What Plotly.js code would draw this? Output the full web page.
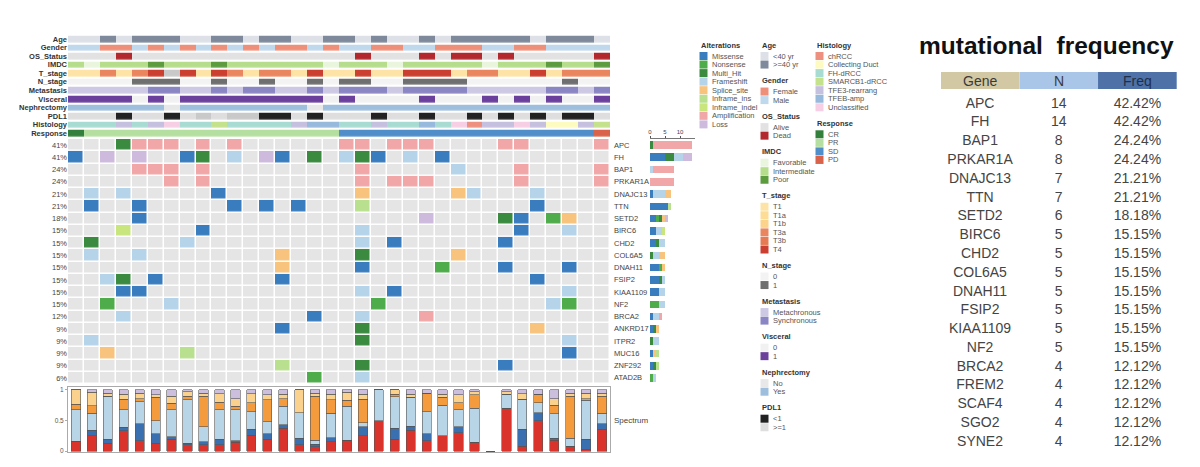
<!DOCTYPE html>
<html><head><meta charset="utf-8">
<script src="https://cdn.plot.ly/plotly-3.0.1.min.js"></script>
<style>html,body{margin:0;padding:0;background:#fff}#chart{width:1200px;height:467px}</style>
</head><body><div id="chart"></div>
<script>
const W = 1200, H = 467;

// ---------- oncoplot genes & mutations (one char per sample) ----------
const genes = ['APC','FH','BAP1','PRKAR1A','DNAJC13','TTN','SETD2','BIRC6','CHD2','COL6A5',
               'DNAH11','FSIP2','KIAA1109','NF2','BRCA2','ANKRD17','ITPR2','MUC16','ZNF292','ATAD2B'];
const altNames  = ['Missense','Nonsense','Multi_Hit','Frameshift','Splice_site','Inframe_ins','Inframe_indel','Amplification','Loss'];
const altCodes  = ['M','N','H','F','S','I','D','A','L'];
const altColors = ['#3a7dbf','#4fac4a','#3a8a3f','#b5d4ea','#f8c47d','#b9e08f','#c9e67e','#f1a7a7','#cdbadd'];
const mutRows = [
  '...HAAA.A.'+'A......AA.'+'AAA....AA.'+'...A', // APC
  'M.L.L..MH.'+'F.LM.H.FHM'+'.F.M......'+'....', // FH
  '....AAA.A.'+'........A.'+'....F...A.'+'...A', // BAP1
  '......A.A.'+'........A.'+'AAA.....A.'+'...A', // PRKAR1A
  '.F.F.....M'+'........S.'+'....SF...F'+'....', // DNAJC13
  '.M..M.....'+'M.M.M...I.'+'.........M'+'....', // TTN
  '....M.....'+'..........'+'..L....HM.'+'NS..', // SETD2
  '...D....M.'+'........F.'+'........M.'+'.F..', // BIRC6
  '.H.....F..'+'........F.'+'M......M..'+'....', // CHD2
  '.F..F.....'+'...S....H.'+'....S.....'+'....', // COL6A5
  '..........'+'...S....M.'+'...N...M..'+'.M..', // DNAH11
  '..FH.M....'+'...M......'+'.........M'+'....', // FSIP2
  '...MM.....'+'........F.'+'M.........'+'.F..', // KIAA1109
  '..N...F...'+'.........N'+'..........'+'FN..', // NF2
  '...F......'+'.....M..F.'+'..A.......'+'....', // BRCA2
  '..........'+'...M....H.'+'.........S'+'....', // ANKRD17
  '.F........'+'........H.'+'..........'+'.F..', // ITPR2
  '..S....I..'+'..........'+'..........'+'.M..', // MUC16
  '..........'+'...I....H.'+'.......M..'+'....', // ZNF292
  '..........'+'.....N..F.'+'..........'+'....'  // ATAD2B
];

// ---------- clinical annotation tracks ('9' = not available) ----------
const trackNames = ['Age','Gender','OS_Status','IMDC','T_stage','N_stage','Metastasis','Visceral','Nephrectomy','PDL1','Histology','Response'];
const naColor = '#c9c9c9';
const ageCats = ['<40 yr','>=40 yr'],            ageColors = ['#dde0e7','#7e8a9b'];
const ageVals = '0010111001'+'1011001101'+'0010111110'+'1110';
const genderCats = ['Female','Male'],            genderColors = ['#ee8f7a','#bfd8ec'];
const genderVals = '1100101010'+'1010010110'+'0110001100'+'1111';
const osCats = ['Alive','Dead'],                 osColors = ['#e2e2e2','#b3282d'];
const osVals = '0001000000'+'0000000010'+'0010110100'+'0001';
const imdcCats = ['Favorable','Intermediate','Poor'], imdcColors = ['#eaf5dd','#b5dd8b','#5c9c3f'];
const imdcVals = '1011121112'+'1111110111'+'0111110111'+'2112';
const tCats = ['T1','T1a','T1b','T3a','T3b','T4'], tColors = ['#fde4a6','#fddc96','#fcd38a','#e98660','#e57a55','#cb3f30'];
const tVals = '0030359505'+'3033050050'+'0555033005'+'0333';
const nCats = ['0','1'],                         nColors = ['#f3f3f3','#6f6f6f'];
const nVals = '0000111001'+'0010010110'+'0111100000'+'0100';
const metCats = ['Metachronous','Synchronous'],  metColors = ['#cdc8e4','#8a85c3'];
const metVals = '0000011001'+'0110010111'+'0111100000'+'1101';
const visCats = ['0','1'],                       visColors = ['#f1f1f1','#6b3f9c'];
const visVals = '1111010111'+'1111110100'+'0010001010'+'1001';
const nephCats = ['No','Yes'],                   nephColors = ['#e8e8e8','#9dbfdd'];
const nephVals = '1111110111'+'1111101111'+'1111111111'+'1111';
const pdlCats = ['<1','>=1'],                    pdlColors = ['#222222','#dedede'];
const pdlVals = '1110110191'+'9900101110'+'1101101010'+'1001';
const histCats = ['chRCC','Collecting Duct','FH-dRCC','SMARCB1-dRCC','TFE3-rearrang','TFEB-amp','Unclassified'];
const histColors = ['#ee907f','#fefbc0','#a8dcd3','#c4e18b','#c6c0df','#96b9dc','#f7cfe5'];
const histVals = '2224246223'+'2222455224'+'2252604464'+'1143';
const respCats = ['CR','PR','SD','PD'],          respColors = ['#33803c','#b5dfa0','#4f8ec8','#d9624b'];
const respVals = '0111111111'+'1111111222'+'2222222222'+'2223';

// ---------- mutation spectrum (fractions per sample, bottom -> top) ----------
const specNames  = ['C>T','C>A','T>C','T>A','C>G','T>G'];
const specColors = ['#d9332b','#3a70b0','#b8d4e7','#f39b3d','#fad28e','#ccbfdd'];
const spCT = [0.16,0.25,0.13,0.33,0.17,0.13,0.19,0.10,0.10,0.10,0.14,0.26,0.19,0.37,0.10,0.07,0.15,0.18,0.25,0.50,0.19,0.34,0.17,0.25,0.30,0.14,0,0.70,0.08,0.50,0.18,0.08,0.03,0.36];
const spCA = [0,0.09,0.06,0.06,0.28,0.15,0.04,0.03,0.05,0.09,0.03,0.10,0.09,0.06,0.11,0.04,0.07,0,0.15,0,0.18,0.07,0.11,0,0.10,0,0,0,0.28,0.13,0.03,0,0.16,0.09];
const spTC = [0.52,0.28,0.71,0.29,0.36,0.22,0.45,0.71,0.25,0.49,0.51,0.28,0.20,0.30,0.42,0.07,0.40,0.55,0.06,0.50,0.52,0.47,0.36,0.50,0.28,0.56,0,0.23,0.48,0.16,0.40,0.13,0.64,0.17];
const spTA = [0.09,0.12,0,0.17,0.05,0.38,0.10,0.06,0.50,0.12,0.05,0.15,0.36,0.13,0,0.72,0.22,0.10,0.39,0,0.04,0,0.31,0.13,0.11,0.22,0,0,0.01,0.14,0.14,0.69,0.03,0.28];
const spCG = [0.23,0.22,0.05,0.08,0.09,0.04,0.12,0.07,0.05,0.14,0.13,0.15,0.08,0.07,0.37,0.05,0.09,0.13,0.08,0,0.07,0.05,0,0.05,0.13,0.05,0,0.04,0.09,0,0.11,0.05,0.09,0.05];
const spTG = [0,0.04,0.05,0.07,0.05,0.08,0.10,0.03,0.05,0.06,0.14,0.06,0.08,0.07,0,0.05,0.07,0.04,0.07,0,0,0.07,0.05,0.07,0.08,0.03,0,0.03,0.06,0.07,0.14,0.05,0.05,0.05];

// ---------- mutational frequency table ----------
const tblHeader = ['Gene','N','Freq'];
const tblGenes = ['APC','FH','BAP1','PRKAR1A','DNAJC13','TTN','SETD2','BIRC6','CHD2','COL6A5','DNAH11','FSIP2','KIAA1109','NF2','BRCA2','FREM2','SCAF4','SGO2','SYNE2'];
const tblN     = [14,14,8,8,7,7,6,5,5,5,5,5,5,5,4,4,4,4,4];
const tblFreq  = ['42.42%','42.42%','24.24%','24.24%','21.21%','21.21%','18.18%','15.15%','15.15%','15.15%','15.15%','15.15%','15.15%','15.15%','12.12%','12.12%','12.12%','12.12%','12.12%'];

// ================= build =================
const FONT = 'Liberation Sans, Arial, sans-serif';
const nS = mutRows[0].length;
const sampleIdx = Array.from({length:nS},(_,i)=>i);
const px = x => x / W, py = y => 1 - y / H;

function discreteScale(colors){
  const n = colors.length, s = [];
  colors.forEach((c,i)=>{ s.push([i/n,c]); s.push([(i+1)/n,c]); });
  return s;
}

// mutation matrix
const mutPalette = ['#e5e5e5'].concat(altColors);
const zMut = mutRows.map(r => r.split('').map(ch => altCodes.indexOf(ch) + 1));
const counts = mutRows.map(r => r.split('').filter(c => c !== '.').length);
const pctLabels = counts.map(c => Math.round(c / nS * 100) + '%');

// annotation matrix
const tracks = [
  [ageCats,ageColors,ageVals],[genderCats,genderColors,genderVals],[osCats,osColors,osVals],
  [imdcCats,imdcColors,imdcVals],[tCats,tColors,tVals],[nCats,nColors,nVals],
  [metCats,metColors,metVals],[visCats,visColors,visVals],[nephCats,nephColors,nephVals],
  [pdlCats,pdlColors,pdlVals],[histCats,histColors,histVals],[respCats,respColors,respVals]
];
let annPalette = [], offsets = [];
tracks.forEach(t => { offsets.push(annPalette.length); annPalette = annPalette.concat(t[1]); });
const naIdx = annPalette.length; annPalette.push(naColor);
const zAnn = tracks.map((t,k) => t[2].split('').map(ch => ch === '9' ? naIdx : offsets[k] + (+ch)));

const traces = [];
traces.push({type:'heatmap', z:zMut, x:sampleIdx, y:genes.map((g,i)=>i), xaxis:'x', yaxis:'y',
  colorscale:discreteScale(mutPalette), zmin:-0.5, zmax:mutPalette.length-0.5, showscale:false,
  xgap:1.5, ygap:1.5, hoverinfo:'skip'});
traces.push({type:'heatmap', z:zAnn, x:sampleIdx, y:trackNames.map((t,i)=>i), xaxis:'x2', yaxis:'y2',
  colorscale:discreteScale(annPalette), zmin:-0.5, zmax:annPalette.length-0.5, showscale:false,
  xgap:0, ygap:2.2, hoverinfo:'skip'});

// spectrum stacked bars
[spCT,spCA,spTC,spTA,spCG,spTG].forEach((vals,k)=>{
  traces.push({type:'bar', x:sampleIdx, y:vals, xaxis:'x3', yaxis:'y3', width:0.58, name:specNames[k],
    marker:{color:specColors[k], line:{color:'#555', width:0.6}}, hoverinfo:'skip', showlegend:false});
});

// right side count bars by alteration type
altCodes.forEach((code,k)=>{
  const xs = mutRows.map(r => r.split('').filter(c => c === code).length);
  traces.push({type:'bar', orientation:'h', x:xs, y:genes.map((g,i)=>i), xaxis:'x4', yaxis:'y4', width:0.62,
    marker:{color:altColors[k], line:{width:0}}, hoverinfo:'skip', showlegend:false});
});

// legend (swatches on a page-sized pixel axis)
const legendCols = [
  {x:699, groups:[['Alterations', altNames, altColors]]},
  {x:760, groups:[['Age',ageCats,ageColors],['Gender',genderCats,genderColors],['OS_Status',osCats,osColors],
                  ['IMDC',imdcCats,imdcColors],['T_stage',tCats,tColors],['N_stage',nCats,nColors],
                  ['Metastasis',metCats,metColors],['Visceral',visCats,visColors],['Nephrectomy',nephCats,nephColors],
                  ['PDL1',pdlCats,pdlColors]]},
  {x:815, groups:[['Histology',histCats,histColors],['Response',respCats,respColors]]}
];
const annotations = [];
const swX = [], swY = [], swC = [];
legendCols.forEach(col => {
  let y = 45;
  col.groups.forEach((g,gi) => {
    if (gi > 0) y += 16;
    annotations.push({xref:'x5', yref:'y5', x:col.x, y:y, xanchor:'left', yanchor:'middle', showarrow:false,
      text:'<b>'+g[0]+'</b>', font:{family:FONT, size:7.5, color:'#333'}});
    y += 11;
    g[1].forEach((name,i) => {
      if (i > 0) y += 8.55;
      swX.push(col.x + 4.5); swY.push(y); swC.push(g[2][i]);
      annotations.push({xref:'x5', yref:'y5', x:col.x + 11, y:y, xanchor:'left', yanchor:'middle', showarrow:false,
        text:name, font:{family:FONT, size:7.5, color:'#555'}});
    });
  });
});
traces.push({type:'scatter', mode:'markers', x:swX, y:swY, xaxis:'x5', yaxis:'y5',
  marker:{symbol:'square', size:8, color:swC, line:{width:0}}, hoverinfo:'skip', showlegend:false, cliponaxis:false});

// gene names at right of the oncoplot
genes.forEach((g,i)=>annotations.push({xref:'paper', yref:'y', x:px(612), y:i, xanchor:'left', yanchor:'middle',
  showarrow:false, text:g, font:{family:FONT, size:7.5, color:'#444'}}));
annotations.push({xref:'paper', yref:'y3', x:px(612), y:0.5, xanchor:'left', yanchor:'middle', showarrow:false,
  text:'Spectrum', font:{family:FONT, size:8, color:'#444'}});
annotations.push({xref:'paper', yref:'paper', x:px(1046.5), y:py(46), xanchor:'center', yanchor:'middle', showarrow:false,
  text:'mutational\u00a0\u00a0frequency', font:{family:FONT, size:24.5, color:'#111', weight:'bold'}});

// table (header fill from the table trace, header words as annotations centred in the cells)
const tblX0 = 940.7, tblX1 = 1176.7;
traces.push({type:'table', domain:{x:[px(tblX0), px(tblX1)], y:[0, py(71.7)]},
  columnwidth:[1,1,1],
  header:{values:tblHeader.map(()=>''), align:'center', height:17.3,
    fill:{color:['#d2c8a3','#a9c5e8','#4e72a8']}, line:{color:'#fff', width:0},
    font:{family:FONT, size:14, color:'#3a3a3a'}},
  cells:{values:[tblGenes, tblN, tblFreq], align:'center', height:18.8,
    fill:{color:'#fff'}, line:{color:'#fff', width:0},
    font:{family:FONT, size:14, color:'#444'}}
});
tblHeader.forEach((h,i)=>annotations.push({xref:'paper', yref:'paper',
  x:px(tblX0 + (tblX1 - tblX0) * (i + 0.5) / 3), y:py(81), xanchor:'center', yanchor:'middle', showarrow:false,
  text:h, font:{family:FONT, size:14, color: i === 2 ? '#1f2f4a' : '#3a3a3a'}}));

const hidden = {visible:false, showgrid:false, zeroline:false};
const mainX = [px(68), px(610)];
const layout = {
  width:W, height:H, margin:{l:0,r:0,t:0,b:0}, paper_bgcolor:'#fff', plot_bgcolor:'rgba(0,0,0,0)',
  showlegend:false, barmode:'stack', font:{family:FONT, color:'#444'},
  xaxis:Object.assign({domain:mainX, range:[-0.5, nS-0.5], anchor:'y'}, hidden),
  yaxis:{domain:[py(384.1), py(138.9)], range:[genes.length-0.5, -0.5], anchor:'x',
    tickmode:'array', tickvals:genes.map((g,i)=>i), ticktext:pctLabels, showgrid:false, zeroline:false,
    ticks:'', showline:false, tickfont:{size:7.5, color:'#444'}},
  xaxis2:Object.assign({domain:mainX, range:[-0.5, nS-0.5], anchor:'y2'}, hidden),
  yaxis2:{domain:[py(137.6), py(34.7)], range:[trackNames.length-0.5, -0.5], anchor:'x2',
    tickmode:'array', tickvals:trackNames.map((t,i)=>i), ticktext:trackNames, showgrid:false, zeroline:false,
    ticks:'', tickfont:{size:7.5, color:'#333', weight:'bold'}},
  xaxis3:{domain:mainX, range:[-0.5, nS-0.5], anchor:'y3', showgrid:false, zeroline:false,
    showticklabels:false, ticks:'', showline:true, mirror:true, linecolor:'#aaa', linewidth:1},
  yaxis3:{domain:[py(452), py(387)], range:[-0.016, 1.049], anchor:'x3', showgrid:false, zeroline:false,
    tickmode:'array', tickvals:[0,0.5,1], ticktext:['0','0.5','1'], ticks:'outside', ticklen:2, tickcolor:'#aaa',
    showline:true, mirror:true, linecolor:'#aaa', linewidth:1, tickfont:{size:6.5, color:'#555'}},
  xaxis4:{domain:[px(650), px(695)], range:[0,15], anchor:'y4', side:'top', showgrid:false, zeroline:false,
    tickmode:'array', tickvals:[0,5,10], ticks:'outside', ticklen:2, tickcolor:'#555', showline:true,
    linecolor:'#555', linewidth:0.8, tickfont:{size:6, color:'#444'}},
  yaxis4:Object.assign({domain:[py(384.1), py(138.9)], range:[genes.length-0.5, -0.5], anchor:'x4'}, hidden),
  xaxis5:Object.assign({domain:[0,1], range:[0,W], anchor:'y5'}, hidden),
  yaxis5:Object.assign({domain:[0,1], range:[H,0], anchor:'x5'}, hidden),
  annotations:annotations
};
Plotly.newPlot('chart', traces, layout, {displayModeBar:false, staticPlot:true});
</script>
</body></html>
